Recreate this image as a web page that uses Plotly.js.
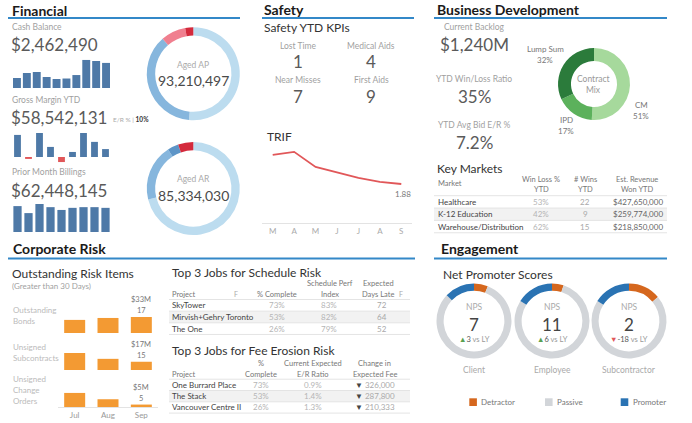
<!DOCTYPE html>
<html><head><meta charset="utf-8">
<script src="https://cdn.plot.ly/plotly-3.0.1.min.js"></script>
<style>html,body{margin:0;padding:0;background:#fff}#chart{width:692px;height:423px}</style>
</head><body><div id="chart"></div>
<script>
// ---------------- data ----------------
const cashBalance = [0.98, 1.47, 1.57, 1.08, 0.88, 0.93, 1.27, 2.75, 2.65, 2.46];
const grossMargin = [9.2, -0.8, 10.0, 4.2, -2.1, 2.1, 10.0, 6.3, 3.3];
const billings = [7.4, 5.4, 8.0, 7.1, 6.3, 6.9, 7.1, 7.1, 6.9];
const finLabels = ['Cash Balance', 'Gross Margin YTD', 'Prior Month Billings'];
const finValues = ['$2,462,490', '$58,542,131', '$62,448,145'];
const agingBuckets = ['Current', '31-60 Days', '61-90 Days', '90+ Days'];
const agedAP = [48.0, 34.5, 8.1, 2.6];
const agedAR = [60.7, 16.8, 3.3, 4.5];
const agedAPTotal = '93,210,497';
const agedARTotal = '85,334,030';
const safetyKpiLabels = ['Lost Time', 'Medical Aids', 'Near Misses', 'First Aids'];
const safetyKpiValues = [1, 4, 7, 9];
const trifMonths = ['M', 'A', 'M', 'J', 'J', 'A', 'S'];
const trif = [3.28, 3.43, 2.70, 2.42, 2.17, 1.98, 1.88];
const bdLabels = ['Current Backlog', 'YTD Win/Loss Ratio', 'YTD Avg Bid E/R %'];
const bdValues = ['$1,240M', '35%', '7.2%'];
const mixLabels = ['CM', 'IPD', 'Lump Sum'];
const mixValues = [51, 17, 32];
const markets = ['Healthcare', 'K-12 Education', 'Warehouse/Distribution'];
const marketWinLoss = ['53%', '42%', '62%'];
const marketWins = [22, 9, 15];
const marketRevenue = ['$427,650,000', '$259,774,000', '$218,850,000'];
const riskMonths = ['Jul', 'Aug', 'Sep'];
const riskItems = [['Outstanding', 'Bonds'], ['Unsigned', 'Subcontracts'], ['Unsigned', 'Change', 'Orders']];
const riskBonds = [27, 31, 33];
const riskSubcontracts = [35, 23, 17];
const riskChangeOrders = [29, 16, 5];
const riskSepCounts = [17, 15, 5];
const schedProjects = ['SkyTower', 'Mirvish+Gehry Toronto', 'The One'];
const schedComplete = ['73%', '53%', '26%'];
const schedSPI = ['83%', '82%', '79%'];
const schedDaysLate = [72, 64, 52];
const feeProjects = ['One Burrard Place', 'The Stack', 'Vancouver Centre II'];
const feeComplete = ['73%', '53%', '26%'];
const feeER = ['0.9%', '1.4%', '1.3%'];
const feeChange = ['326,000', '287,800', '210,333'];
const npsGroups = ['Client', 'Employee', 'Subcontractor'];
const npsLabels = ['Detractor', 'Passive', 'Promoter'];
const npsDetractor = [6, 5, 14];
const npsPassive = [81, 79, 70];
const npsPromoter = [13, 16, 16];
const npsScore = [7, 11, 2];
const npsVsLY = [3, 6, -18];

// ---------------- helpers ----------------
const W = 692, H = 423;
const X = p => p / W, Y = p => 1 - p / H;
const FONT = 'Lato, "Open Sans", sans-serif';
const annotations = [], shapes = [], traces = [];
const layout = {
  width: W, height: H, margin: {l: 0, r: 0, t: 0, b: 0},
  paper_bgcolor: '#ffffff', plot_bgcolor: 'rgba(0,0,0,0)',
  showlegend: false, font: {family: FONT, color: '#555'},
  annotations, shapes
};
function txt(text, x, y, size, color, xanchor, extra) {
  annotations.push(Object.assign({
    text: String(text), x: X(x), y: Y(y), xref: 'paper', yref: 'paper',
    xanchor: xanchor || 'left', yanchor: 'middle', showarrow: false, borderpad: 0,
    font: {family: FONT, size: size, color: color}
  }, extra || {}));
}
function hline(x0, x1, y, color, width) {
  shapes.push({type: 'line', xref: 'paper', yref: 'paper', x0: X(x0), x1: X(x1), y0: Y(y), y1: Y(y),
    line: {color: color, width: width}});
}
function rect(x0, x1, y0, y1, fill, layer) {
  shapes.push({type: 'rect', xref: 'paper', yref: 'paper', x0: X(x0), x1: X(x1), y0: Y(y0), y1: Y(y1),
    fillcolor: fill, line: {width: 0}, layer: layer || 'below'});
}
function axPair(n, xd, yd, xr, yr, extraX, extraY) {
  const s = n === 1 ? '' : String(n);
  layout['xaxis' + s] = Object.assign({domain: [X(xd[0]), X(xd[1])], range: xr, visible: false,
    fixedrange: true, anchor: 'y' + s, showgrid: false, zeroline: false}, extraX || {});
  layout['yaxis' + s] = Object.assign({domain: [Y(yd[1]), Y(yd[0])], range: yr, visible: false,
    fixedrange: true, anchor: 'x' + s, showgrid: false, zeroline: false}, extraY || {});
  return {xaxis: 'x' + s, yaxis: 'y' + s};
}
function donut(values, labels, colors, cx, cy, r, hole) {
  traces.push({type: 'pie', values: values, labels: labels, marker: {colors: colors, line: {width: 0}},
    hole: hole, sort: false, direction: 'clockwise', rotation: 0, textinfo: 'none', hoverinfo: 'skip',
    showlegend: false,
    domain: {x: [X(cx - r), X(cx + r)], y: [Y(cy + r), Y(cy - r)]}});
}
function section(title, x, y, x0, x1, lineY) {
  txt('<b>' + title + '</b>', x, y, 14, '#1a1a1a');
  hline(x0, x1, lineY, '#3388c8', 2);
}
const GRAY = '#9f9f9f', BIG = '#5a5a5a', SUB = '#333333';
const BLUE = '#4e79a7', RED = '#e15759', ORANGE = '#f39a33';
const HDR = '#777', HS = 7.5, RS = 8;

// ---------------- Financial ----------------
section('Financial', 11, 10, 8, 240, 18);
const finY = [[27, 44], [100, 118], [172, 190]];
finLabels.forEach((l, i) => {
  txt(l, 11, finY[i][0], 8.5, GRAY);
  txt(finValues[i], 10, finY[i][1], 17, BIG);
});
txt('<span style="color:#aaa">E/R % | </span><b>10%</b>', 112, 119, 6.5, '#333');

let a = axPair(1, [12, 111], [56, 88], [-0.5, cashBalance.length - 0.5], [0, 32 / 10.2]);
traces.push(Object.assign({type: 'bar', x: cashBalance.map((v, i) => i), y: cashBalance, width: 0.8,
  marker: {color: BLUE}, hoverinfo: 'skip'}, a));
a = axPair(2, [12, 111], [130, 164], [-0.5, grossMargin.length - 0.5], [-7 / 2.4, 27 / 2.4]);
traces.push(Object.assign({type: 'bar', x: grossMargin.map((v, i) => i), y: grossMargin, width: 0.62,
  marker: {color: grossMargin.map(v => v < 0 ? RED : BLUE)}, hoverinfo: 'skip'}, a));
a = axPair(3, [12, 111], [202, 232], [-0.5, billings.length - 0.5], [0, 30 / 3.5]);
traces.push(Object.assign({type: 'bar', x: billings.map((v, i) => i), y: billings, width: 0.75,
  marker: {color: BLUE}, hoverinfo: 'skip'}, a));

donut(agedAP, agingBuckets, ['#bcdcef', '#86b6dd', '#f07f8f', '#d42a3c'], 193.3, 73.7, 46.5, 0.82);
donut(agedAR, agingBuckets, ['#bcdcef', '#86b6dd', '#5d95c7', '#d42a3c'], 193.3, 188.5, 46.5, 0.82);
txt('Aged AP', 193, 65, 8.5, '#aaa', 'center');
txt(agedAPTotal, 193, 81, 14, '#4a4a4a', 'center');
txt('Aged AR', 193, 179, 8.5, '#aaa', 'center');
txt(agedARTotal, 193, 195, 14, '#4a4a4a', 'center');

// ---------------- Safety ----------------
section('Safety', 263, 9, 262, 414, 18);
txt('Safety YTD KPIs', 263, 28, 12, SUB);
const kpiPos = [[298, 46], [371, 46], [298, 80], [371, 80]];
safetyKpiLabels.forEach((l, i) => {
  txt(l, kpiPos[i][0], kpiPos[i][1], 8.5, GRAY, 'center');
  txt(safetyKpiValues[i], kpiPos[i][0], kpiPos[i][1] + 16, 17, BIG, 'center');
});
txt('TRIF', 266, 136, 12, SUB);
a = axPair(4, [262, 412], [140, 223], [-0.5, trif.length - 0.5], [0, 4],
  {visible: true, showline: true, linecolor: '#e3e3e3', linewidth: 1, tickmode: 'array',
   tickvals: trif.map((v, i) => i), ticktext: trifMonths, ticks: '', tickfont: {size: 8, color: '#aaa', family: FONT}});
traces.push(Object.assign({type: 'scatter', mode: 'lines', x: trif.map((v, i) => i), y: trif,
  line: {color: RED, width: 1.8}, hoverinfo: 'skip'}, a));
annotations.push({text: String(trif[trif.length - 1]), x: trif.length - 1, y: trif[trif.length - 1],
  xref: 'x4', yref: 'y4', xanchor: 'center', yanchor: 'top', yshift: -3, xshift: 2, showarrow: false,
  font: {family: FONT, size: 8, color: '#777'}});

// ---------------- Business Development ----------------
section('Business Development', 436, 9, 434, 667, 18);
const bdY = [[27, 44], [79, 96], [125, 142]];
bdLabels.forEach((l, i) => {
  txt(l, 474, bdY[i][0], 8.5, GRAY, 'center');
  txt(bdValues[i], 474, bdY[i][1], 17, BIG, 'center');
});
donut(mixValues, mixLabels, ['#a6d99c', '#5cb15c', '#2b7b3b'], 594, 84, 36, 0.64);
txt('Contract', 593, 79, 8.5, '#999', 'center');
txt('Mix', 593, 90, 8.5, '#999', 'center');
const mixLabelPos = [[641, 105], [566, 120], [545, 49]];
mixLabels.forEach((l, i) => {
  txt(l, mixLabelPos[i][0], mixLabelPos[i][1], 8, '#777', 'center');
  txt(mixValues[i] + '%', mixLabelPos[i][0], mixLabelPos[i][1] + 11, 8, '#777', 'center');
});

// Key Markets table
txt('Key Markets', 436, 168, 12, SUB);
function tableFrame(x0, x1, top, step, n) {
  rect(x0, x1, top + step, top + 2 * step, '#f2f2f2');
  for (let i = 0; i <= n; i++) hline(x0, x1, top + i * step, '#e4e4e4', 1);
  return i => top + (i + 0.5) * step;
}
txt('Market', 437, 184, HS, HDR);
txt('Win Loss %', 541, 179, HS, HDR, 'center'); txt('YTD', 541, 189.5, HS, HDR, 'center');
txt('# Wins', 585, 179, HS, HDR, 'center'); txt('YTD', 585, 189.5, HS, HDR, 'center');
txt('Est. Revenue', 637, 179, HS, HDR, 'center'); txt('Won YTD', 637, 189.5, HS, HDR, 'center');
let rowY = tableFrame(434, 667, 195.7, 12.35, markets.length);
markets.forEach((m, i) => {
  txt(m, 437, rowY(i), RS, '#444');
  txt(marketWinLoss[i], 541, rowY(i), RS, '#b5b5b5', 'center');
  txt(marketWins[i], 585, rowY(i), RS, '#a8a8a8', 'center');
  txt(marketRevenue[i], 664, rowY(i), RS, '#666', 'right');
});

// ---------------- Corporate Risk ----------------
section('Corporate Risk', 12, 249, 8, 415, 258.5);
txt('Outstanding Risk Items', 11, 273, 12, SUB);
txt('(Greater than 30 Days)', 11, 286, 8, GRAY);
const riskSeries = [riskBonds, riskSubcontracts, riskChangeOrders];
const riskRowPx = [[300, 333], [337, 370], [374, 407]];
const riskLabelY = [310, 347.3, 379.3];
riskSeries.forEach((vals, r) => {
  const last = r === riskSeries.length - 1;
  const ax = axPair(5 + r, [58, 158], riskRowPx[r], [-0.5, riskMonths.length - 0.5], [0, 68],
    last ? {visible: true, showline: true, linecolor: '#e3e3e3', linewidth: 1, ticks: '', type: 'category',
            tickfont: {size: 8, color: '#999', family: FONT}} : {type: 'category'});
  traces.push(Object.assign({type: 'bar', x: riskMonths, y: vals, width: 0.63,
    marker: {color: ORANGE}, hoverinfo: 'skip'}, ax));
  const li = vals.length - 1;
  annotations.push({text: String(riskSepCounts[r]), x: li, y: vals[li], xref: ax.xaxis, yref: ax.yaxis,
    xanchor: 'center', yanchor: 'bottom', yshift: 0, showarrow: false, font: {family: FONT, size: 7.5, color: '#777'}});
  annotations.push({text: '$' + vals[li] + 'M', x: li, y: vals[li], xref: ax.xaxis, yref: ax.yaxis,
    xanchor: 'center', yanchor: 'bottom', yshift: 10.5, showarrow: false, font: {family: FONT, size: 7.5, color: '#777'}});
  riskItems[r].forEach((l, k) => txt(l, 12, riskLabelY[r] + k * 10.7, 8, '#bbb'));
});

// Top 3 Jobs for Schedule Risk
txt('Top 3 Jobs for Schedule Risk', 171, 272.5, 12, SUB);
txt('Project', 171, 294, HS, HDR);
txt('F', 236.5, 293.5, 7, '#aaa', 'center');
txt('% Complete', 277, 294, HS, HDR, 'center');
txt('Schedule Perf', 330, 283.8, HS, HDR, 'center'); txt('Index', 330, 294, HS, HDR, 'center');
txt('Expected', 378.5, 283.8, HS, HDR, 'center'); txt('Days Late', 378.5, 294, HS, HDR, 'center');
txt('F', 401, 293.5, 7, '#aaa', 'center');
rowY = tableFrame(169, 410, 299.5, 11.65, schedProjects.length);
schedProjects.forEach((p, i) => {
  txt(p, 171, rowY(i), RS, '#444');
  txt(schedComplete[i], 277, rowY(i), RS, '#b5b5b5', 'center');
  txt(schedSPI[i], 328.5, rowY(i), RS, '#b5b5b5', 'center');
  txt(schedDaysLate[i], 381.5, rowY(i), RS, '#a8a8a8', 'center');
});

// Top 3 Jobs for Fee Erosion Risk
txt('Top 3 Jobs for Fee Erosion Risk', 171, 350, 12, SUB);
txt('Project', 171, 374, HS, HDR);
txt('%', 261, 363.3, HS, HDR, 'center'); txt('Complete', 261, 374, HS, HDR, 'center');
txt('Current Expected', 312.5, 363.3, HS, HDR, 'center'); txt('E/R Ratio', 312.5, 374, HS, HDR, 'center');
txt('Change in', 374.5, 363.3, HS, HDR, 'center'); txt('Expected Fee', 374.5, 374, HS, HDR, 'center');
rowY = tableFrame(169, 410, 379.2, 11.3, feeProjects.length);
feeProjects.forEach((p, i) => {
  txt(p, 171, rowY(i), RS, '#444');
  txt(feeComplete[i], 261, rowY(i), RS, '#b5b5b5', 'center');
  txt(feeER[i], 312.5, rowY(i), RS, '#b5b5b5', 'center');
  txt('<span style="color:#444">▼</span> ' + feeChange[i], 374.5, rowY(i), RS, '#aaa', 'center');
});

// ---------------- Engagement ----------------
section('Engagement', 440, 249, 434, 667, 258.5);
txt('Net Promoter Scores', 442, 274, 12, SUB);
const npsColors = ['#d5671e', '#d2d5d9', '#2a73b3'];
const npsCx = [474, 552, 629];
npsGroups.forEach((g, i) => {
  donut([npsDetractor[i], npsPassive[i], npsPromoter[i]], npsLabels, npsColors, npsCx[i], 321, 37.5, 0.81);
  txt('NPS', npsCx[i], 306.7, 8.5, '#aaa', 'center');
  txt(npsScore[i], npsCx[i], 324, 17, '#444', 'center');
  const up = npsVsLY[i] >= 0;
  txt('<span style="color:' + (up ? '#59a14f' : '#e15759') + '">' + (up ? '▲' : '▼') + '</span>' +
      '<span style="color:#555">' + npsVsLY[i] + '</span> vs LY', npsCx[i], 339.3, 7.5, '#999', 'center');
  txt(g, npsCx[i], 370, 8.5, '#aaa', 'center');
});
const legX = [469.3, 545, 620.7];
npsLabels.forEach((l, i) => {
  rect(legX[i], legX[i] + 7.6, 398.3, 406, npsColors[i], 'above');
  txt(l, legX[i] + 11, 402.2, 8, '#777');
});

Plotly.newPlot('chart', traces, layout, {staticPlot: true, displayModeBar: false});
</script></body></html>
